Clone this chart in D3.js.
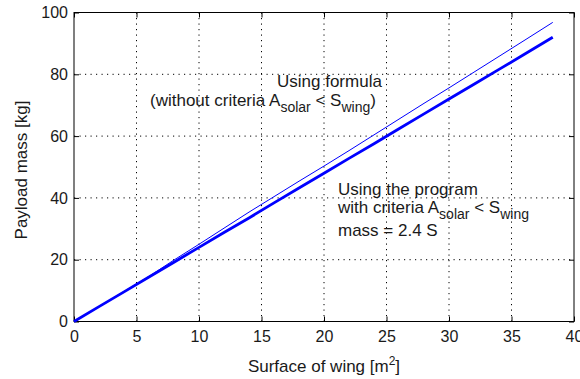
<!DOCTYPE html>
<html><head><meta charset="utf-8">
<script src="https://cdn.jsdelivr.net/npm/d3@7"></script>
<style>
body{margin:0;background:#fff;}
text{font-family:"Liberation Sans",Arial,sans-serif;fill:#1a1a1a;}
</style></head>
<body><svg id="c" width="580" height="379"></svg>
<script>
const surface = [0,2,4,6,8,10,12,14,16,18,20,22,24,26,28,30,32,34,36,38.3];
const formulaMass = [0,4.8,9.7,14.6,19.9,25.0,30.2,35.4,40.4,45.4,50.3,55.3,60.4,65.5,70.6,75.6,80.7,85.8,90.9,96.8];
const programMass = [0,4.8,9.6,14.4,19.2,24.0,28.8,33.5,38.4,43.2,48.0,52.8,57.5,62.4,67.2,72.0,76.8,81.6,86.4,92.0];
const xTicks = [0,5,10,15,20,25,30,35,40];
const yTicks = [0,20,40,60,80,100];

const svg = d3.select("#c");
const L=74,R=574,T=12.5,B=321.5;
const x = d3.scaleLinear().domain([0,40]).range([L,R]);
const y = d3.scaleLinear().domain([0,100]).range([B,T]);

// grid
const g = svg.append("g");
g.selectAll(".gx").data(xTicks.slice(1,-1)).join("line")
 .attr("x1",d=>x(d)).attr("x2",d=>x(d)).attr("y1",T).attr("y2",B)
 .attr("stroke","#000").attr("stroke-width",1).attr("stroke-dasharray","1.2,4.3");
g.selectAll(".gy").data(yTicks.slice(1,-1)).join("line")
 .attr("y1",d=>y(d)).attr("y2",d=>y(d)).attr("x1",L).attr("x2",R)
 .attr("stroke","#000").attr("stroke-width",1).attr("stroke-dasharray","1.2,4.3");

// axes
const fs = "16px", fa = "17px", fsub = "14px";
const ax = svg.append("g").attr("transform",`translate(0,${B})`)
 .call(d3.axisBottom(x).tickValues(xTicks).tickSize(-5).tickPadding(9).tickFormat(d3.format("d")));
const ay = svg.append("g").attr("transform",`translate(${L},0)`)
 .call(d3.axisLeft(y).tickValues(yTicks).tickSize(-5).tickPadding(6).tickFormat(d3.format("d")));
const axT = svg.append("g").attr("transform",`translate(0,${T})`)
 .call(d3.axisTop(x).tickValues(xTicks).tickSize(-5).tickFormat(""));
const ayR = svg.append("g").attr("transform",`translate(${R},0)`)
 .call(d3.axisRight(y).tickValues(yTicks).tickSize(-5).tickFormat(""));
[ax,ay,axT,ayR].forEach(a=>{
  a.select(".domain").remove();
  a.selectAll("line").attr("stroke","#000");
  a.selectAll("text").style("font-size",fs).attr("fill","#1a1a1a").style("font-family","'Liberation Sans',Arial,sans-serif");
});
svg.append("rect").attr("x",L).attr("y",T).attr("width",R-L).attr("height",B-T)
 .attr("fill","none").attr("stroke","#000").attr("stroke-width",1);

// lines
const line = (ys)=>d3.line().x((d,i)=>x(surface[i])).y(d=>y(d))(ys);
svg.append("path").attr("d",line(programMass)).attr("fill","none").attr("stroke","#0000ff").attr("stroke-width",2.8);
svg.append("path").attr("d",line(formulaMass)).attr("fill","none").attr("stroke","#0000ff").attr("stroke-width",1);

// axis titles
svg.append("text").attr("x",(L+R)/2).attr("y",372).attr("text-anchor","middle").style("font-size",fa)
 .html('Surface of wing [m<tspan dy="-7" font-size="12px">2</tspan><tspan dy="7">]</tspan>');
svg.append("text").attr("transform",`translate(27,${(T+B)/2+3}) rotate(-90)`).attr("text-anchor","middle").style("font-size",fa)
 .text("Payload mass [kg]");

// annotations
const ann = svg.append("g").style("font-size",fa);
ann.append("text").attr("x",277).attr("y",87).text("Using formula");
ann.append("text").attr("x",150).attr("y",106)
 .html(`(without criteria A<tspan dy="6" font-size="${fsub}">solar</tspan><tspan dy="-6"> &lt; S</tspan><tspan dy="6" font-size="${fsub}">wing</tspan><tspan dy="-6">)</tspan>`);
ann.append("text").attr("x",338).attr("y",195).text("Using the program");
ann.append("text").attr("x",338).attr("y",213)
 .html(`with criteria A<tspan dy="6" font-size="${fsub}">solar</tspan><tspan dy="-6"> &lt; S</tspan><tspan dy="6" font-size="${fsub}">wing</tspan>`);
ann.append("text").attr("x",338).attr("y",236).text("mass = 2.4 S");
</script></body></html>
